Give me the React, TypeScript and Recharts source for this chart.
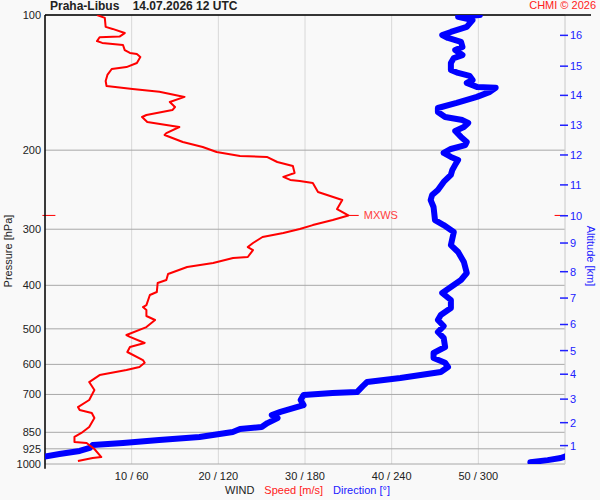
import { ScatterChart, Scatter, XAxis, YAxis, CartesianGrid, ReferenceLine } from 'recharts'

// pressure levels on the left axis (hPa)
const pressureTicks = [100, 200, 300, 400, 500, 600, 700, 850, 925, 1000]
// bottom axis: speed m/s and the matching direction in degrees
const speedTicks = [10, 20, 30, 40, 50]
const directionTicks = [60, 120, 180, 240, 300]
// right axis: altitude km and the pressure level where it sits
const altitudeKm = [1, 2, 3, 4, 5, 6, 7, 8, 9, 10, 11, 12, 13, 14, 15, 16]
const altitudePressure = [910, 809, 717, 631, 559, 489, 427, 373, 322, 280, 239, 205, 176, 151, 130, 111]

// [pressure hPa, speed m/s], top of sounding down to surface
const speedProfile: [number, number][] = [
  [100, 6.0], [101.5, 6.9], [106.3, 7.0], [107.4, 7.8], [109.7, 9.2], [111.7, 8.6], [112.1, 6.3],
  [114.3, 6.0], [115.4, 6.6], [116.6, 9.0], [119.7, 9.2], [121.5, 9.8], [122.2, 10.6], [124.0, 11.0],
  [127.9, 10.6], [130.6, 9.4], [131.9, 7.7], [136.0, 7.2], [140.3, 7.0], [143.9, 7.1], [146.1, 10.1],
  [148.3, 13.2], [152.2, 16.1], [156.2, 14.4], [160.3, 15.0], [162.8, 14.7], [167.0, 11.7], [168.7, 11.2],
  [173.1, 11.8], [175.8, 14.0], [177.6, 15.5], [183.2, 14.0], [185.0, 13.8], [191.8, 15.9], [196.8, 18.2],
  [201.9, 19.8], [206.1, 22.5], [207.1, 25.6], [212.5, 26.8], [216.9, 28.6], [224.8, 28.8], [229.4, 27.5],
  [233.0, 28.3], [234.2, 29.4], [236.6, 30.9], [247.9, 31.5], [258.3, 34.3], [270.5, 33.7], [279.5, 35.0],
  [286.2, 33.2], [293.7, 30.9], [299.7, 29.4], [305.9, 27.5], [312.2, 25.1], [322.0, 24.0], [328.7, 23.4],
  [333.8, 24.0], [345.9, 23.4], [347.7, 21.7], [356.7, 19.4], [364.1, 16.4], [377.5, 14.2], [389.2, 14.0],
  [395.3, 13.0], [414.0, 12.9], [420.4, 12.1], [442.6, 11.7], [447.1, 11.3], [453.9, 11.7], [468.1, 11.7],
  [477.8, 12.7], [495.5, 11.7], [516.1, 9.4], [521.1, 9.8], [537.6, 11.5], [548.8, 9.8], [563.1, 9.5],
  [586.7, 11.3], [595.0, 11.5], [608.0, 10.9], [617.5, 9.4], [633.7, 6.3], [656.9, 5.1], [684.3, 5.7],
  [720.3, 5.1], [746.8, 3.8], [758.0, 4.0], [769.6, 5.4], [790.0, 5.7], [827.0, 5.1], [852.8, 4.2],
  [870.6, 3.4], [893.0, 3.4], [897.8, 4.8], [926.0, 5.7], [965.0, 6.5], [970.0, 5.5], [985.0, 3.8],
]

// [pressure hPa, direction deg], top down to where it wraps through north
const directionProfile: [number, number][] = [
  [100, 301], [100.5, 292], [101, 286], [102.6, 296], [106.3, 292], [109.1, 281], [110.8, 275],
  [112.5, 279], [114.8, 288], [117.8, 289], [119.7, 284], [122.8, 289], [124.7, 283], [127.9, 281],
  [132.6, 281], [134.6, 286], [136.7, 294], [139.6, 296], [141.7, 292], [144.6, 299], [145.3, 312],
  [148.3, 308], [152.2, 299], [157.0, 285], [161.1, 272], [164.4, 272], [168.7, 277], [171.4, 289],
  [174.0, 293], [177.6, 290], [181.3, 284], [186.9, 288], [191.8, 292], [194.8, 291], [198.8, 281],
  [202.9, 276], [207.1, 281], [210.3, 286], [215.6, 284], [221.3, 282], [227.1, 281], [235.4, 276],
  [245.3, 272], [251.7, 268], [258.3, 267], [267.7, 269], [286.2, 270], [293.7, 276], [304.4, 283],
  [325.5, 281], [337.2, 286], [354.9, 290], [375.5, 292], [389.2, 288], [403.5, 281], [416.1, 275],
  [431.3, 281], [449.3, 281], [465.8, 274], [477.8, 272], [492.9, 276], [508.2, 272], [523.6, 276],
  [548.8, 277], [566.0, 269], [580.7, 269], [595.0, 277], [608.2, 279], [623.9, 274], [633.7, 260],
  [643.4, 246], [656.9, 223], [670.6, 220], [691.4, 216], [695.0, 199], [702.1, 179], [720.3, 177],
  [739.2, 179], [765.6, 163], [778.1, 157], [790.2, 161], [810.7, 154], [827.3, 150], [835.9, 135],
  [848.4, 130], [870.6, 107], [884.3, 79], [897.8, 54], [907.1, 33], [921.1, 31], [935.5, 24],
  [950.0, 10], [962.0, 0],
]
// surface part, still west of north before the wrap
const directionSurface: [number, number][] = [
  [962.0, 360], [970.0, 357], [980.3, 348], [990.5, 336],
]

const maxWind = { p: 279.5, speed: 35.0 }

const RED = '#ff0000'
const BLUE = '#0000ff'
const FONT = '"Liberation Sans", Arial, sans-serif'

const toPoints = (rows: [number, number][]) => rows.map(([p, v]) => ({ p, v }))

function AltTick(props: any) {
  const { x, y, payload } = props
  const i = altitudePressure.indexOf(payload.value)
  return (
    <g>
      <line x1={x - 5} x2={x + 3} y1={y} y2={y} stroke="#2020ff" strokeWidth={1.5} />
      <text x={x + 5} y={y} dy={4} fill="#2020ff" fontSize={11} fontFamily={FONT}>
        {altitudeKm[i]}
      </text>
    </g>
  )
}

const noDot = () => <g />

export default function App() {
  return (
    <div style={{ position: 'absolute', left: 0, top: 0, width: 600, height: 500, background: '#f9f9f9', fontFamily: FONT }}>
      <ScatterChart width={600} height={500} margin={{ top: 15, right: 0, bottom: 16, left: 0 }}>
        <XAxis
          xAxisId="spd"
          type="number"
          dataKey="v"
          domain={[0, 60]}
          ticks={speedTicks}
          interval={0}
          tickFormatter={(v: number) => `${v} / ${directionTicks[speedTicks.indexOf(v)]}`}
          tick={{ fill: '#222', fontSize: 11, fontFamily: FONT }}
          axisLine={false}
          tickLine={false}
          tickSize={0}
          tickMargin={8}
          height={20}
          allowDataOverflow
        />
        <XAxis xAxisId="dir" orientation="top" type="number" dataKey="v" domain={[0, 360]} hide allowDataOverflow />
        <YAxis
          yAxisId="p"
          type="number"
          dataKey="p"
          scale="log"
          domain={[100, 1000]}
          reversed
          ticks={pressureTicks}
          interval={0}
          tick={{ fill: '#222', fontSize: 11, fontFamily: FONT }}
          axisLine={{ stroke: '#000', strokeWidth: 1.5 }}
          tickLine={false}
          tickSize={0}
          tickMargin={4}
          width={45}
          allowDataOverflow
        />
        <YAxis
          yAxisId="alt"
          orientation="right"
          type="number"
          dataKey="p"
          scale="log"
          domain={[100, 1000]}
          reversed
          ticks={altitudePressure}
          interval={0}
          tick={AltTick}
          axisLine={false}
          tickLine={false}
          tickSize={0}
          tickMargin={0}
          width={35}
          allowDataOverflow
        />
        <CartesianGrid xAxisId="spd" yAxisId="p" horizontal={false} stroke="#d8d8d8" />
        <CartesianGrid xAxisId="spd" yAxisId="p" vertical={false} stroke="#a8a8a8" />
        <ReferenceLine xAxisId="spd" yAxisId="p" x={60} stroke="#d8d8d8" />
        <ReferenceLine
          xAxisId="spd"
          yAxisId="p"
          segment={[{ x: 0, y: 100 }, { x: 63, y: 100 }]}
          stroke="#000"
          strokeWidth={1.5}
          ifOverflow="visible"
        />
        <ReferenceLine
          xAxisId="spd"
          yAxisId="p"
          segment={[{ x: 0, y: 1000 }, { x: 0, y: 1025 }]}
          stroke="#000"
          strokeWidth={1.5}
          ifOverflow="visible"
        />

        <Scatter
          xAxisId="dir"
          yAxisId="p"
          data={toPoints(directionProfile)}
          line={{ stroke: BLUE, strokeWidth: 6, strokeLinejoin: 'round', strokeLinecap: 'round' }}
          lineType="joint"
          shape={noDot}
          isAnimationActive={false}
        />
        <Scatter
          xAxisId="dir"
          yAxisId="p"
          data={toPoints(directionSurface)}
          line={{ stroke: BLUE, strokeWidth: 6, strokeLinejoin: 'round', strokeLinecap: 'round' }}
          lineType="joint"
          shape={noDot}
          isAnimationActive={false}
        />
        <Scatter
          xAxisId="spd"
          yAxisId="p"
          data={toPoints(speedProfile)}
          line={{ stroke: RED, strokeWidth: 2, strokeLinejoin: 'round' }}
          lineType="joint"
          shape={noDot}
          isAnimationActive={false}
        />

        {/* max wind marker */}
        <ReferenceLine
          xAxisId="spd"
          yAxisId="p"
          segment={[{ x: maxWind.speed, y: maxWind.p }, { x: maxWind.speed + 1.2, y: maxWind.p }]}
          stroke={RED}
          strokeWidth={1}
          label={{ value: 'MXWS', position: 'right', fill: '#ff4040', fontSize: 11, fontFamily: FONT }}
        />
        <ReferenceLine
          xAxisId="spd"
          yAxisId="p"
          segment={[{ x: -0.3, y: maxWind.p }, { x: 1.2, y: maxWind.p }]}
          stroke={RED}
          strokeWidth={1}
          ifOverflow="visible"
        />
        <ReferenceLine
          xAxisId="spd"
          yAxisId="p"
          segment={[{ x: 58.8, y: maxWind.p }, { x: 60, y: maxWind.p }]}
          stroke={RED}
          strokeWidth={1}
          ifOverflow="visible"
        />
      </ScatterChart>

      <div style={{ position: 'absolute', left: 50, top: -1, fontSize: 12, fontWeight: 'bold', color: '#222', whiteSpace: 'pre' }}>
        {'Praha-Libus    14.07.2026 12 UTC'}
      </div>
      <div style={{ position: 'absolute', right: 4, top: -1, fontSize: 11, color: '#ff2020' }}>CHMI © 2026</div>
      <div
        style={{
          position: 'absolute', left: 8, top: 251, fontSize: 11, color: '#222', whiteSpace: 'nowrap',
          transform: 'translate(-50%, -50%) rotate(-90deg)',
        }}
      >
        Pressure [hPa]
      </div>
      <div
        style={{
          position: 'absolute', left: 591, top: 256, fontSize: 11, color: '#2020ff', whiteSpace: 'nowrap',
          transform: 'translate(-50%, -50%) rotate(90deg)',
        }}
      >
        Altitude [km]
      </div>
      <div style={{ position: 'absolute', left: 225, top: 484, fontSize: 11, whiteSpace: 'pre' }}>
        <span style={{ color: '#222' }}>WIND</span>
        <span style={{ color: '#ff2020', marginLeft: 10 }}>Speed [m/s]</span>
        <span style={{ color: '#2020ff', marginLeft: 10 }}>Direction [°]</span>
      </div>
    </div>
  )
}
